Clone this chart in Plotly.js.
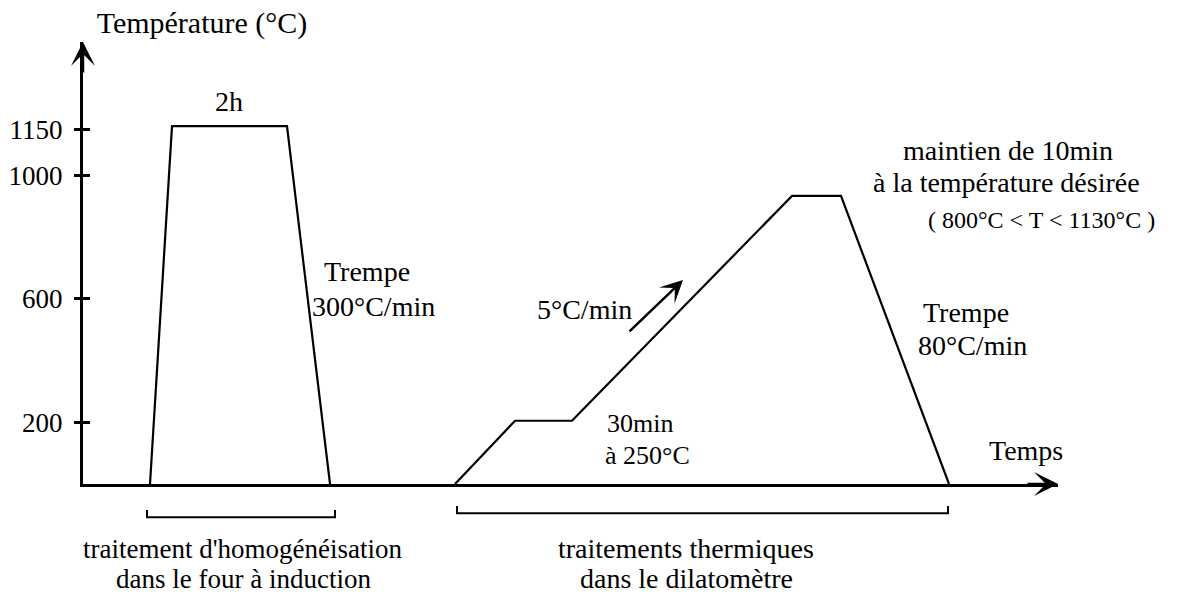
<!DOCTYPE html>
<html>
<head>
<meta charset="utf-8">
<script src="https://cdn.plot.ly/plotly-3.0.1.min.js"></script>
<style>html,body{margin:0;padding:0;background:#fff;}#chart{width:1179px;height:601px;}</style>
</head>
<body>
<div id="chart"></div>
<script>
// Time (arbitrary units) and temperature (°C)
const homogTime = [67, 89, 204, 247];
const homogTemp = [0, 1160, 1160, 0];
const dilatoTime = [372, 432, 489, 709, 758, 866];
const dilatoTemp = [0, 205, 205, 934, 934, 0];
const tickValues = [200, 600, 1000, 1150];
const tickLabels = ['200', '600', '1000', '1150'];
const bracketStart = [64, 374];
const bracketEnd = [252, 865];
const bracketLabels = [["traitement d'homogénéisation", "dans le four à induction"], ["traitements thermiques", "dans le dilatomètre"]];
const bracketLabelX = [160, 603];

const FONT = 'Liberation Serif, Times New Roman, serif';
const XMAX = 975, YMAX = 1433;

const traces = [
  {x: homogTime, y: homogTemp, mode: 'lines', line: {color: '#000', width: 2.2}, hoverinfo: 'skip'},
  {x: dilatoTime, y: dilatoTemp, mode: 'lines', line: {color: '#000', width: 2.2}, hoverinfo: 'skip'},
  {x: [], y: [], yaxis: 'y2', mode: 'lines', hoverinfo: 'skip'}
];

function txt(t, x, y, size) {
  return {text: t, x: x, y: y, xref: 'x', yref: 'y', showarrow: false,
    font: {family: FONT, size: size || 28, color: '#000'}, xanchor: 'center', yanchor: 'middle'};
}

const annotations = [
  // axis arrows
  {x: 0, y: YMAX, xref: 'x', yref: 'y', ax: 0, ay: 32, text: '', showarrow: true, arrowhead: 3, arrowsize: 1.6, arrowwidth: 2.5, arrowcolor: '#000'},
  {x: XMAX, y: 0, xref: 'x', yref: 'y', ax: -32, ay: 0, text: '', showarrow: true, arrowhead: 3, arrowsize: 1.6, arrowwidth: 2.5, arrowcolor: '#000'},
  // heating rate arrow
  {x: 600, y: 661, xref: 'x', yref: 'y', ax: 545, ay: 490, axref: 'x', ayref: 'y', text: '', showarrow: true, arrowhead: 3, arrowsize: 1.5, arrowwidth: 2.5, arrowcolor: '#000'},
  txt('2h', 146, 1241),
  txt('Trempe', 284, 690),
  txt('300°C/min', 290, 574),
  txt('5°C/min', 501, 567),
  txt('30min', 557, 196, 26),
  txt('à 250°C', 564, 94, 26),
  txt('maintien de 10min', 925, 1080, 28),
  txt('à la température désirée', 923, 978, 28),
  txt('( 800°C &lt; T &lt; 1130°C )', 958, 856, 24),
  txt('Trempe', 883, 556),
  txt('80°C/min', 889, 449),
  txt('Temps', 943, 110)
];

const shapes = [];
for (let i = 0; i < bracketStart.length; i++) {
  const yl = i === 0 ? -0.075 : -0.066;
  shapes.push({type: 'path', xref: 'x', yref: 'paper', line: {color: '#000', width: 2},
    path: 'M' + bracketStart[i] + ',' + (yl + 0.016) + ' L' + bracketStart[i] + ',' + yl + ' L' + bracketEnd[i] + ',' + yl + ' L' + bracketEnd[i] + ',' + (yl + 0.016)});
  const size = i === 0 ? 27 : 28;
  annotations.push({text: bracketLabels[i][0], x: bracketLabelX[i], y: -0.147, xref: 'x', yref: 'paper', showarrow: false,
    font: {family: FONT, size: size, color: '#000'}, xanchor: 'center', yanchor: 'middle'});
  annotations.push({text: bracketLabels[i][1], x: bracketLabelX[i], y: -0.214, xref: 'x', yref: 'paper', showarrow: false,
    font: {family: FONT, size: size, color: '#000'}, xanchor: 'center', yanchor: 'middle'});
}

const layout = {
  width: 1179, height: 601,
  margin: {l: 83, r: 121, t: 42, b: 117, pad: 0},
  paper_bgcolor: '#fff', plot_bgcolor: '#fff',
  showlegend: false,
  title: {text: 'Température (°C)', x: 0.082, xanchor: 'left', y: 0.962, yanchor: 'middle',
    font: {family: FONT, size: 30, color: '#000'}},
  xaxis: {range: [0, XMAX], showline: true, linewidth: 3, linecolor: '#000', showgrid: false, zeroline: false,
    showticklabels: false, ticks: '', fixedrange: true},
  yaxis: {range: [0, YMAX], showline: true, linewidth: 3, linecolor: '#000', showgrid: false, zeroline: false,
    tickmode: 'array', tickvals: tickValues, ticktext: tickLabels, ticks: 'outside', ticklen: 6, tickwidth: 3,
    tickcolor: '#000', ticklabelstandoff: 6, tickfont: {family: FONT, size: 27, color: '#000'}, fixedrange: true},
  yaxis2: {range: [0, YMAX], overlaying: 'y', side: 'left', anchor: 'x', showline: false, showgrid: false, zeroline: false,
    tickmode: 'array', tickvals: tickValues, ticks: 'inside', ticklen: 7, tickwidth: 3, tickcolor: '#000',
    showticklabels: false, fixedrange: true},
  annotations: annotations,
  shapes: shapes
};

Plotly.newPlot('chart', traces, layout, {displayModeBar: false, staticPlot: true});
</script>
</body>
</html>
